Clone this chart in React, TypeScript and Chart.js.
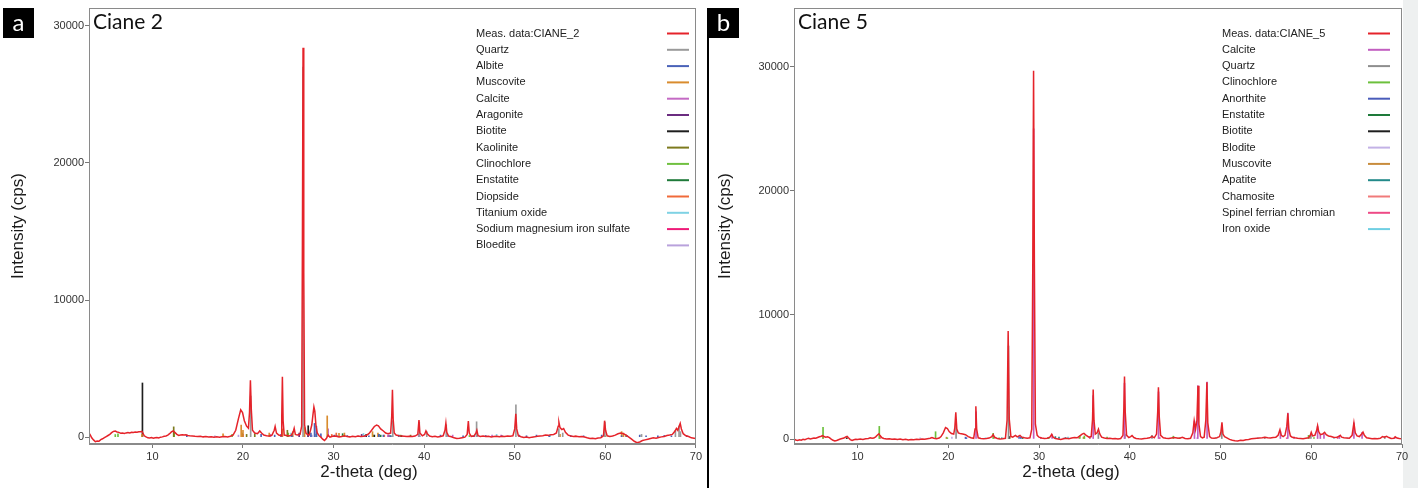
import React, { useEffect, useRef } from "react";
import { Chart, registerables } from "chart.js";

Chart.register(...registerables);

// ---------------- Panel a : Ciane 2 ----------------
const thetaA = [
  3.0, 3.15, 3.3, 3.5, 3.7, 3.9, 4.1, 4.3, 4.5, 4.7, 4.9, 5.1, 5.3, 5.5, 5.7, 5.9, 6.1, 6.3, 6.5, 6.7,
  6.9, 7.1, 7.3, 7.5, 7.7, 7.9, 8.1, 8.3, 8.5, 8.7, 8.85, 8.95, 9.1, 9.3, 9.5, 9.7, 9.9, 10.1, 10.3, 10.5,
  10.7, 10.9, 11.1, 11.3, 11.5, 11.7, 11.9, 12.1, 12.3, 12.5, 12.7, 12.9, 13.1, 13.3, 13.5, 13.7, 13.9, 14.1, 14.4, 14.7,
  15.0, 15.3, 15.6, 15.9, 16.2, 16.5, 16.8, 17.1, 17.4, 17.7, 18.0, 18.3, 18.6, 18.9, 19.2, 19.5, 19.75, 19.95, 20.15, 20.4,
  20.6, 20.72, 20.82, 20.92, 21.05, 21.3, 21.6, 21.85, 22.05, 22.3, 22.6, 22.9, 23.2, 23.45, 23.55, 23.7, 23.95, 24.2, 24.28, 24.35,
  24.43, 24.55, 24.8, 25.1, 25.35, 25.55, 25.65, 25.78, 26.0, 26.3, 26.48, 26.56, 26.63, 26.71, 26.8, 26.95, 27.1, 27.3, 27.45, 27.6,
  27.72, 27.83, 27.93, 28.05, 28.2, 28.4, 28.6, 28.8, 29.0, 29.2, 29.4, 29.6, 29.8, 30.0, 30.3, 30.6, 30.9, 31.2, 31.5, 31.8,
  32.1, 32.4, 32.7, 33.0, 33.3, 33.6, 33.9, 34.2, 34.5, 34.75, 34.95, 35.2, 35.5, 35.75, 36.0, 36.3, 36.42, 36.5, 36.58, 36.7,
  36.9, 37.2, 37.5, 37.8, 38.1, 38.4, 38.7, 39.0, 39.3, 39.43, 39.53, 39.8, 40.05, 40.2, 40.35, 40.6, 40.9, 41.2, 41.5, 41.8,
  42.1, 42.3, 42.4, 42.5, 42.7, 43.0, 43.3, 43.6, 43.9, 44.2, 44.5, 44.75, 44.88, 44.98, 45.2, 45.5, 45.72, 45.82, 45.95, 46.2,
  46.5, 46.8, 47.1, 47.4, 47.7, 48.0, 48.3, 48.6, 48.9, 49.2, 49.5, 49.8, 50.0, 50.12, 50.22, 50.4, 50.7, 51.0, 51.3, 51.6,
  51.9, 52.2, 52.5, 52.8, 53.1, 53.4, 53.7, 54.0, 54.3, 54.6, 54.8, 54.88, 55.0, 55.2, 55.4, 55.6, 55.9, 56.2, 56.5, 56.8,
  57.1, 57.4, 57.7, 58.0, 58.3, 58.6, 58.9, 59.2, 59.5, 59.8, 59.92, 60.03, 60.2, 60.5, 60.8, 61.1, 61.4, 61.7, 62.0, 62.3,
  62.6, 62.9, 63.2, 63.5, 63.8, 64.1, 64.4, 64.7, 65.0, 65.3, 65.6, 65.9, 66.2, 66.5, 66.8, 67.1, 67.4, 67.7, 67.85, 68.0,
  68.15, 68.27, 68.4, 68.6, 68.9, 69.2, 69.5, 69.8, 70.0,
];
const countsA = [
  300, 150, -50, -200, -330, -280, -300, -180, -120, -40, 40, 120, 200, 330, 420, 450, 380, 350, 280, 300,
  270, 310, 330, 300, 360, 340, 380, 360, 400, 390, 420, 300, 100, 20, -50, -60, -30, -80, -40, -20,
  -60, 0, 20, 60, 90, 150, 250, 380, 460, 330, 200, 130, 160, 180, 150, 170, 120, 100, 90, 60,
  40, 70, 20, 40, 10, 30, -10, 20, 0, 30, 50, 20, 70, 150, 500, 1350, 2000, 1800, 1200, 800,
  650, 1800, 4150, 2000, 500, 300, 250, 450, 300, 150, 100, 80, 150, 500, 780, 300, 150, 100, 1500, 4400,
  1200, 150, 120, 80, 150, 400, 640, 200, 150, 200, 800, 14000, 28400, 12000, 900, 300, 200, 150, 500, 900,
  1600, 2200, 1900, 900, 300, 100, 0, -150, -250, -100, 150, 0, 50, 80, 60, 20, 50, 100, 40, 20,
  60, 30, 80, 50, 70, 120, 250, 500, 780, 880, 820, 600, 450, 300, 250, 300, 1500, 3450, 1300, 300,
  150, 100, 80, 60, 40, 70, 50, 80, 200, 1250, 300, 100, 200, 460, 250, 80, 30, 60, 20, 50,
  100, 500, 1020, 350, 80, 30, -50, -100, -80, -40, 0, 200, 1180, 300, 50, 80, 300, 500, 100, 50,
  80, 40, 60, 20, 50, 70, 30, 60, 50, 80, 60, 100, 600, 1700, 600, 100, 30, -20, 10, -50,
  0, 20, 60, 80, 100, 150, 130, 180, 200, 300, 800, 1080, 700, 550, 630, 350, 150, 80, 50, 60,
  30, 50, 10, -50, -100, -80, -120, -60, -40, 100, 1200, 500, 100, 50, 80, 150, 250, 300, 250, 150,
  0, -150, -300, -400, -350, -250, -200, -150, -100, -50, -80, -20, 20, 50, 120, 150, 200, 450, 640, 500,
  800, 1000, 600, 250, 100, 50, -50, -80, -100,
];

// reference phase sticks, panel a: [2-theta, intensity]
const quartzA = [[20.85, 3000], [26.63, 27000], [36.54, 1200], [39.46, 1100], [40.29, 400], [42.44, 900], [45.79, 1120], [50.13, 2350], [54.87, 600], [55.3, 300], [59.95, 1100], [64.0, 200], [67.74, 500], [68.14, 800], [68.3, 400]];
const albiteA = [[13.8, 150], [22.0, 200], [23.5, 150], [24.2, 200], [25.4, 150], [27.5, 300], [27.9, 1000], [28.1, 800], [28.6, 250], [30.1, 150], [30.4, 100], [31.5, 120], [33.5, 100], [33.9, 100], [35.0, 200], [35.5, 150], [36.3, 100], [37.2, 150], [39.5, 100], [41.8, 150], [42.5, 200], [44.3, 100], [45.5, 100], [46.8, 120], [48.6, 100], [50.5, 150], [51.3, 100], [52.4, 150], [53.8, 100], [56.2, 120], [57.6, 100], [59.6, 150], [61.8, 100], [62.4, 120], [63.8, 150], [64.5, 100], [65.8, 100], [66.5, 120], [67.3, 100], [69.0, 100]];
const muscoviteA = [[8.85, 200], [17.8, 250], [19.8, 880], [20.0, 500], [22.9, 300], [24.35, 600], [25.5, 400], [26.8, 700], [29.3, 1550], [30.6, 270], [31.2, 300], [34.3, 400], [34.9, 300], [45.3, 100], [55.0, 200], [61.8, 400], [62.0, 300]];
const calciteA = [[23.05, 200], [29.4, 600], [36.0, 150], [39.4, 200], [43.15, 150], [47.5, 150], [48.5, 150]];
const aragoniteA = [[26.2, 300], [27.2, 200], [33.1, 200], [36.1, 150], [45.8, 200]];
const biotiteA = [[8.9, 3950], [27.2, 830], [33.6, 200], [34.5, 150], [37.5, 100], [45.4, 80]];
const kaoliniteA = [[12.35, 750], [19.9, 300], [20.4, 200], [21.3, 250], [24.9, 500], [35.0, 200], [38.5, 150], [62.3, 150]];
const clinochloreA = [[5.9, 190], [6.2, 250], [12.4, 300], [18.8, 200], [25.0, 300], [31.0, 100], [34.4, 150], [37.4, 150], [45.0, 120], [60.0, 100]];
const enstatiteA = [[28.1, 200], [31.0, 250], [35.2, 150], [36.3, 100]];
const diopsideA = [[29.8, 200], [30.3, 300], [35.6, 150], [56.7, 100]];
const titaniumOxideA = [[25.3, 300], [33.3, 270], [48.0, 200], [53.9, 150]];
const sodiumSulfateA = [[20.0, 200], [33.5, 100]];
const bloediteA = [[16.9, 100], [19.5, 150], [27.6, 150], [32.7, 100]];

const legendA = ["Meas. data:CIANE_2", "Quartz", "Albite", "Muscovite", "Calcite", "Aragonite", "Biotite", "Kaolinite", "Clinochlore", "Enstatite", "Diopside", "Titanium oxide", "Sodium magnesium iron sulfate", "Bloedite"];
const sticksA = [quartzA, albiteA, muscoviteA, calciteA, aragoniteA, biotiteA, kaoliniteA, clinochloreA, enstatiteA, diopsideA, titaniumOxideA, sodiumSulfateA, bloediteA];

// ---------------- Panel b : Ciane 5 ----------------
const thetaB = [
  3.0, 3.2, 3.4, 3.6, 3.8, 4.0, 4.2, 4.4, 4.6, 4.8, 5.0, 5.2, 5.4, 5.6, 5.8, 6.0, 6.15, 6.3, 6.5, 6.7,
  6.9, 7.1, 7.3, 7.5, 7.7, 7.9, 8.1, 8.3, 8.5, 8.7, 8.85, 9.0, 9.2, 9.4, 9.6, 9.8, 10.0, 10.3, 10.6, 10.9,
  11.2, 11.4, 11.6, 11.8, 12.0, 12.2, 12.35, 12.5, 12.7, 12.9, 13.2, 13.5, 13.8, 14.1, 14.4, 14.7, 15.0, 15.3, 15.6, 15.9,
  16.2, 16.5, 16.8, 17.1, 17.4, 17.7, 18.0, 18.2, 18.4, 18.7, 19.0, 19.2, 19.45, 19.7, 19.9, 20.1, 20.35, 20.6, 20.72, 20.83,
  20.94, 21.1, 21.3, 21.6, 21.9, 22.2, 22.5, 22.8, 22.95, 23.04, 23.13, 23.3, 23.6, 23.9, 24.2, 24.5, 24.8, 24.95, 25.1, 25.4,
  25.7, 26.0, 26.3, 26.48, 26.6, 26.72, 26.9, 27.1, 27.4, 27.6, 27.9, 28.1, 28.4, 28.7, 29.0, 29.2, 29.32, 29.4, 29.49, 29.6,
  29.8, 30.0, 30.3, 30.6, 30.9, 31.2, 31.4, 31.55, 31.8, 32.1, 32.4, 32.7, 33.0, 33.3, 33.6, 33.9, 34.2, 34.5, 34.75, 34.95,
  35.2, 35.5, 35.75, 35.9, 35.97, 36.06, 36.2, 36.4, 36.55, 36.7, 36.9, 37.2, 37.5, 37.8, 38.1, 38.4, 38.7, 39.0, 39.25, 39.35,
  39.42, 39.5, 39.65, 39.9, 40.1, 40.25, 40.45, 40.7, 41.0, 41.3, 41.6, 41.9, 42.2, 42.45, 42.7, 42.95, 43.08, 43.16, 43.25, 43.4,
  43.7, 44.0, 44.3, 44.6, 44.9, 45.2, 45.5, 45.8, 46.1, 46.4, 46.7, 46.95, 47.1, 47.25, 47.4, 47.52, 47.62, 47.8, 48.0, 48.2,
  48.38, 48.5, 48.6, 48.8, 49.0, 49.3, 49.6, 49.9, 50.05, 50.16, 50.27, 50.45, 50.7, 51.0, 51.3, 51.6, 51.9, 52.2, 52.5, 52.8,
  53.1, 53.4, 53.7, 54.0, 54.3, 54.6, 54.9, 55.2, 55.5, 55.8, 56.1, 56.35, 56.55, 56.7, 56.9, 57.1, 57.3, 57.42, 57.53, 57.7,
  57.9, 58.2, 58.5, 58.8, 59.1, 59.4, 59.7, 59.9, 60.0, 60.15, 60.4, 60.6, 60.7, 60.82, 61.0, 61.25, 61.47, 61.65, 61.9, 62.2,
  62.5, 62.8, 63.05, 63.2, 63.35, 63.6, 63.9, 64.2, 64.5, 64.7, 64.85, 65.05, 65.3, 65.55, 65.7, 65.85, 66.1, 66.4, 66.7, 67.0,
  67.3, 67.6, 67.85, 68.05, 68.3, 68.55, 68.8, 69.1, 69.25, 69.45, 69.7, 70.0,
];
const countsB = [
  0, -80, -120, -60, -100, -20, -60, 10, 60, 0, 40, 80, 60, 120, 180, 230, 280, 200, 150, 180,
  120, 0, -100, -150, -120, -60, 0, 40, 80, 180, 220, 100, -40, -120, -60, -20, -40, 0, -30, 20,
  40, 100, 60, 80, 180, 320, 420, 260, 100, 40, 0, 20, -20, 10, -40, 0, -60, -20, -80, -40,
  -60, -20, -40, 0, -20, 30, 60, 120, 60, 20, 80, 200, 500, 930, 850, 600, 450, 400, 900, 2150,
  800, 500, 450, 400, 350, 200, 100, 60, 800, 2650, 800, 100, 40, 20, 40, 80, 200, 350, 150, 40,
  0, 20, 60, 1500, 8700, 1600, 200, 150, 300, 180, 300, 150, 100, 60, 100, 800, 15000, 29700, 14000, 1200,
  300, 150, 80, 40, 60, 150, 380, 150, 40, 0, -40, 20, 60, 30, 80, 120, 100, 250, 400, 460,
  300, 150, 200, 1600, 4000, 1500, 400, 500, 800, 400, 150, 80, 40, 60, 20, 40, 0, 40, 300, 2500,
  5050, 2200, 300, 120, 200, 280, 120, 50, 20, 0, 40, 60, 100, 220, 100, 400, 2200, 4170, 1800, 300,
  100, 60, 40, 80, 120, 80, 60, 140, 50, 20, 60, 500, 1480, 800, 1500, 4300, 1200, 200, 100, 150,
  1500, 4570, 1300, 200, 80, 60, 100, 200, 600, 1340, 400, 200, 100, -30, -100, -130, -150, -100, -120, -60,
  -40, 20, 40, 60, 80, 100, 140, 100, 80, 120, 150, 300, 750, 300, 200, 300, 1000, 2070, 800, 250,
  150, 100, 60, 40, 20, 60, 100, 300, 540, 250, 300, 700, 1070, 600, 350, 400, 540, 350, 250, 200,
  120, 150, 200, 300, 150, 100, 80, 60, 300, 1300, 500, 250, 200, 400, 560, 300, 100, 60, 20, 40,
  20, 60, 200, 150, 220, 120, 40, 60, 180, 80, 40, 20,
];

const calciteB = [[23.06, 2200], [29.41, 25000], [31.44, 350], [35.97, 3500], [39.42, 4500], [43.17, 3800], [47.13, 1450], [47.5, 4300], [48.52, 4600], [56.6, 600], [57.42, 2100], [58.1, 150], [60.7, 1000], [61.0, 300], [61.4, 400], [63.1, 300], [64.7, 1300], [65.6, 550], [69.2, 100]];
const quartzB = [[20.86, 1500], [26.64, 7500], [36.54, 500], [39.47, 400], [42.45, 300], [50.14, 800], [54.87, 150], [59.96, 400], [68.1, 200]];
const clinochloreB = [[6.2, 940], [12.4, 1020], [18.6, 590], [19.9, 100], [24.95, 460], [25.6, 100], [31.1, 120], [34.5, 250], [35.0, 250], [37.5, 150], [44.8, 230], [45.5, 100], [59.7, 300], [60.3, 120]];
const anorthiteB = [[21.9, 150], [22.0, 100], [27.8, 200], [28.0, 150]];
const enstatiteB = [[28.2, 150], [31.0, 100]];
const biotiteB = [[8.8, 100], [26.7, 200]];
const bloditeB = [[16.9, 100], [20.4, 150], [28.0, 150], [32.7, 100], [47.4, 100]];
const muscoviteB = [[8.85, 100], [19.8, 150], [26.8, 200], [34.9, 150], [45.3, 100]];
const apatiteB = [[25.9, 100], [31.8, 200], [32.2, 150], [32.9, 120]];
const chamositeB = [[6.2, 200], [12.5, 300], [25.1, 150], [34.4, 150], [59.8, 100]];
const spinelB = [[30.2, 100], [35.6, 150], [43.3, 120], [57.3, 100], [62.9, 120]];
const ironOxideB = [[24.1, 100], [33.2, 150], [35.6, 120], [49.5, 80], [54.1, 100], [62.5, 100], [64.0, 80]];

const legendB = ["Meas. data:CIANE_5", "Calcite", "Quartz", "Clinochlore", "Anorthite", "Enstatite", "Biotite", "Blodite", "Muscovite", "Apatite", "Chamosite", "Spinel ferrian chromian", "Iron oxide"];
const sticksB = [calciteB, quartzB, clinochloreB, anorthiteB, enstatiteB, biotiteB, bloditeB, muscoviteB, apatiteB, chamositeB, spinelB, ironOxideB];

const yTicks = [0, 10000, 20000, 30000];
const xTicks = [10, 20, 30, 40, 50, 60, 70];

// ---------------- styles ----------------
const colorsA = ["#e5232a", "#9a9a9a", "#4a62b8", "#d98c2e", "#c46ac4", "#6b2c80", "#1e1e1e", "#7d7a1e", "#70c040", "#1f7a3a", "#f06a3a", "#7fd2e4", "#ee1a78", "#b9a2dc"];
const colorsB = ["#e5232a", "#c25ec0", "#8e8e8e", "#6cc03c", "#4a5cba", "#1e7a3a", "#1e1e1e", "#c3b2e6", "#c88c3c", "#238a8a", "#f07a7a", "#ee4a86", "#6fcfe3"];

const FONT = '"Liberation Sans", Arial, sans-serif';

type PanelCfg = {
  theta: number[];
  counts: number[];
  sticks: number[][][];
  legend: string[];
  colors: string[];
  title: string;
  yMin: number;
  yMax: number;
  canvasW: number;
  axisW: number;
  padRight: number;
  yTitlePad: number;
  legendTextX: number;
  legendLineX: number;
  xTitleX: number;
};

function makeChart(canvas: HTMLCanvasElement, c: PanelCfg) {
  const datasets: any[] = [];
  c.sticks.forEach((s, i) => {
    datasets.push({
      type: "bar",
      label: c.legend[i + 1],
      data: s.map(([x, y]) => ({ x, y })),
      backgroundColor: c.colors[i + 1],
      borderWidth: 0,
      barThickness: 1,
      grouped: false,
      order: 2,
    });
  });
  datasets.push({
    type: "line",
    label: c.legend[0],
    data: c.theta.map((x, i) => ({ x, y: c.counts[i] })),
    borderColor: c.colors[0],
    borderWidth: 1.5,
    pointRadius: 0,
    tension: 0,
    fill: false,
    order: 1,
  });

  const decor = {
    id: "decor",
    afterDraw(chart: any) {
      const { ctx, chartArea: a } = chart;
      ctx.save();
      ctx.strokeStyle = "#8a8a8a";
      ctx.lineWidth = 1;
      ctx.strokeRect(Math.round(a.left) + 0.5, Math.round(a.top) + 0.5, Math.round(a.right - a.left) - 1, Math.round(a.bottom - a.top) - 1);
      // panel title
      ctx.fillStyle = "#111";
      ctx.font = '21px Lato, "Open Sans", sans-serif';
      ctx.textAlign = "left";
      ctx.textBaseline = "alphabetic";
      ctx.fillText(c.title, a.left + 4, a.top + 21);
      // legend
      ctx.font = "11px " + FONT;
      ctx.textBaseline = "middle";
      c.legend.forEach((lab, i) => {
        const y = 33.5 + i * 16.3;
        ctx.fillStyle = "#222";
        ctx.fillText(lab, c.legendTextX, y);
        ctx.strokeStyle = c.colors[i];
        ctx.lineWidth = 2;
        ctx.beginPath();
        ctx.moveTo(c.legendLineX, y);
        ctx.lineTo(c.legendLineX + 22, y);
        ctx.stroke();
      });
      // x axis title
      ctx.fillStyle = "#1a1a1a";
      ctx.font = "17px " + FONT;
      ctx.textAlign = "center";
      ctx.fillText("2-theta (deg)", c.xTitleX, 472);
      ctx.restore();
    },
  };

  return new Chart(canvas, {
    type: "line",
    data: { datasets },
    plugins: [decor],
    options: {
      animation: false,
      responsive: false,
      events: [],
      layout: { padding: { left: 0, top: 8, right: c.padRight, bottom: 0 } },
      plugins: { legend: { display: false }, tooltip: { enabled: false } },
      scales: {
        x: {
          type: "linear",
          min: 3,
          max: 70,
          offset: false,
          bounds: "data",
          afterFit: (s: any) => {
            s.height = 44;
          },
          afterBuildTicks: (s: any) => {
            s.ticks = xTicks.map((v) => ({ value: v }));
          },
          ticks: { stepSize: 10, includeBounds: false, color: "#333", font: { size: 11, family: FONT }, padding: 2, maxRotation: 0 },
          grid: { offset: false, drawOnChartArea: false, tickLength: 4, color: "#777" },
          border: { display: true, color: "#8a8a8a" },
        },
        y: {
          type: "linear",
          min: c.yMin,
          max: c.yMax,
          bounds: "data",
          afterFit: (s: any) => {
            s.width = c.axisW;
          },
          afterBuildTicks: (s: any) => {
            s.ticks = yTicks.map((v) => ({ value: v }));
          },
          ticks: { color: "#333", font: { size: 11, family: FONT }, padding: 1, callback: (v: any) => String(v) },
          grid: { drawOnChartArea: false, tickLength: 4, color: "#777" },
          border: { display: true, color: "#8a8a8a" },
          title: {
            display: true,
            text: "Intensity (cps)",
            color: "#1a1a1a",
            font: { size: 17, family: FONT },
            padding: { top: c.yTitlePad, bottom: 0 },
          },
        },
      },
    },
  } as any);
}

const panelA: PanelCfg = {
  theta: thetaA, counts: countsA, sticks: sticksA, legend: legendA, colors: colorsA, title: "Ciane 2",
  yMin: -500, yMax: 31300, canvasW: 704, axisW: 89, padRight: 7, yTitlePad: 8,
  legendTextX: 476, legendLineX: 667, xTitleX: 369,
};
const panelB: PanelCfg = {
  theta: thetaB, counts: countsB, sticks: sticksB, legend: legendB, colors: colorsB, title: "Ciane 5",
  yMin: -400, yMax: 34750, canvasW: 708, axisW: 84, padRight: 16, yTitlePad: 5,
  legendTextX: 512, legendLineX: 658, xTitleX: 361,
};

function Panel({ cfg, left }: { cfg: PanelCfg; left: number }) {
  const ref = useRef<HTMLCanvasElement>(null);
  useEffect(() => {
    if (!ref.current) return;
    const ch = makeChart(ref.current, cfg);
    return () => ch.destroy();
  }, [cfg]);
  return (
    <canvas
      ref={ref}
      width={cfg.canvasW}
      height={488}
      style={{ position: "absolute", left, top: 0, width: cfg.canvasW, height: 488 }}
    />
  );
}

const labelBox = (left: number): React.CSSProperties => ({
  position: "absolute",
  left,
  top: 8,
  width: 31,
  height: 30,
  background: "#000",
  color: "#fff",
  font: '24px Lato, "Open Sans", sans-serif',
  lineHeight: "27px",
  textAlign: "center",
});

export default function App() {
  return (
    <div style={{ position: "fixed", left: 0, top: 0, width: 1418, height: 488, background: "#fff", overflow: "hidden" }}>
      <div style={{ position: "absolute", left: 1403, top: 0, width: 15, height: 488, background: "#eef0f0" }} />
      <Panel cfg={panelA} left={0} />
      <Panel cfg={panelB} left={710} />
      <div style={{ position: "absolute", left: 707, top: 8, width: 2, height: 480, background: "#000" }} />
      <div style={labelBox(3)}>a</div>
      <div style={labelBox(708)}>b</div>
    </div>
  );
}
